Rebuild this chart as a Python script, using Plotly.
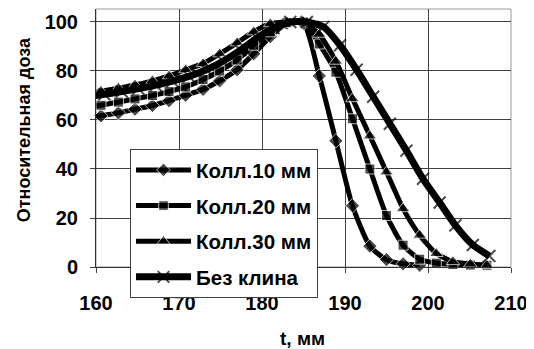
import plotly.graph_objects as go

# ---- data ----
x_coll = [158.6, 160.6, 162.7, 164.7, 166.8, 168.8, 170.8, 172.9, 174.9, 177.0, 179.0, 181.0,
          183.0, 185.0, 186.9, 188.9, 190.9, 193.0, 195.0, 197.0, 199.0, 201.0, 203.0, 205.1, 207.1]
coll10 = [60.5, 61.7, 62.9, 64.4, 65.9, 67.9, 70.1, 72.5, 76.0, 80.5, 87.0, 94.0,
          99.5, 99.5, 78.0, 51.5, 25.0, 8.5, 3.0, 1.3, 0.7]
coll20 = [65.0, 66.0, 67.3, 68.6, 70.0, 71.6, 73.5, 76.5, 80.0, 84.5, 90.5, 96.0,
          99.8, 100.0, 91.0, 79.5, 60.5, 40.0, 21.0, 8.9, 3.2, 1.6, 1.0, 0.8, 0.7]
coll30 = [70.5, 71.7, 73.0, 74.3, 76.0, 78.0, 80.5, 83.0, 87.0, 91.5, 96.0, 99.3,
          100.0, 100.0, 95.0, 84.0, 68.7, 53.5, 38.8, 23.8, 13.0, 5.5, 2.2, 1.2, 0.7]
x_nowedge = [159.0, 161.0, 163.1, 165.1, 167.2, 169.2, 171.2, 173.3, 175.3, 177.4, 179.4, 181.4,
             183.4, 185.4, 187.4, 189.4, 191.4, 193.4, 195.4, 197.4, 199.4, 201.4, 203.3, 205.4, 207.4]
nowedge = [69.5, 70.5, 71.6, 72.8, 74.2, 75.9, 77.8, 80.5, 84.0, 88.5, 93.5, 97.5,
           100.0, 100.0, 98.0, 90.5, 80.5, 69.5, 58.5, 47.5, 36.0, 26.3, 17.0, 9.0, 4.5]
names = ["Колл.10 мм", "Колл.20 мм", "Колл.30 мм", "Без клина"]
x_ticks = [160, 170, 180, 190, 200, 210]
y_ticks = [0, 20, 40, 60, 80, 100]

FONT = "Liberation Sans, Arial, sans-serif"

def sizes(n, s):
    # first point lies left of the axis range: hide its marker
    return [0] + [s] * (n - 1)

fig = go.Figure()
series = [
    (x_coll[:len(coll10)], coll10, "diamond", 11, 5, None),
    (x_coll[:len(coll20)], coll20, "square", 10, 5, None),
    (x_coll[:len(coll30)], coll30, "triangle-up", 12, 5, None),
    (x_nowedge, nowedge, "x-thin", 12, 7, 2),
]
for i, (xs, ys, sym, ms, lw, mlw) in enumerate(series):
    marker = dict(symbol=sym, size=sizes(len(xs), ms), color="black")
    if mlw:
        marker["line"] = dict(color="black", width=mlw)
    fig.add_trace(go.Scatter(
        x=xs, y=ys, name=names[i], mode="lines+markers",
        line=dict(color="black", width=lw, shape="spline", smoothing=0.6),
        marker=marker, cliponaxis=False, legendgroup=str(i),
    ))

# page body has an 8px margin, so the figure is sized/offset accordingly
fig.update_layout(
    width=526, height=341,
    margin=dict(l=88, r=23, t=1, b=82, autoexpand=False),
    paper_bgcolor="white", plot_bgcolor="white",
    font=dict(family=FONT, size=20, color="black", weight="bold"),
    showlegend=True,
    legend=dict(
        x=0.082, y=0.457, xanchor="left", yanchor="top",
        bgcolor="white", bordercolor="#404040", borderwidth=1,
        font=dict(family=FONT, size=20.5, color="black", weight="bold"),
        itemwidth=55, traceorder="grouped", tracegroupgap=6,
    ),
    shapes=[dict(type="rect", xref="paper", yref="paper", x0=0, x1=1, y0=0, y1=1,
                 line=dict(color="#9a9a9a", width=1), layer="below")],
    annotations=[
        dict(text="t, мм", xref="paper", yref="paper", x=0.497, y=-0.277,
             showarrow=False, xanchor="center", yanchor="middle",
             font=dict(family=FONT, size=19, color="black", weight="bold")),
        dict(text="Относительная доза", xref="paper", yref="paper", x=-0.1735, y=0.534,
             showarrow=False, xanchor="center", yanchor="middle", textangle=-90,
             font=dict(family=FONT, size=18, color="black", weight="bold")),
    ],
)
fig.update_xaxes(
    range=[160, 210], tickvals=x_ticks, ticktext=[str(v) for v in x_ticks],
    showgrid=True, gridcolor="#404040", gridwidth=1,
    ticks="outside", ticklen=5, tickcolor="#404040",
    showline=True, linecolor="#303030", linewidth=1, zeroline=False,
    ticklabelstandoff=13, automargin=False,
)
fig.update_yaxes(
    range=[0, 105.3], tickvals=y_ticks, ticktext=[str(v) for v in y_ticks],
    showgrid=True, gridcolor="#404040", gridwidth=1,
    ticks="outside", ticklen=5, tickcolor="#404040",
    showline=True, linecolor="#303030", linewidth=1, zeroline=False,
    ticklabelstandoff=8, automargin=False,
)
fig.write_html("out.html")
